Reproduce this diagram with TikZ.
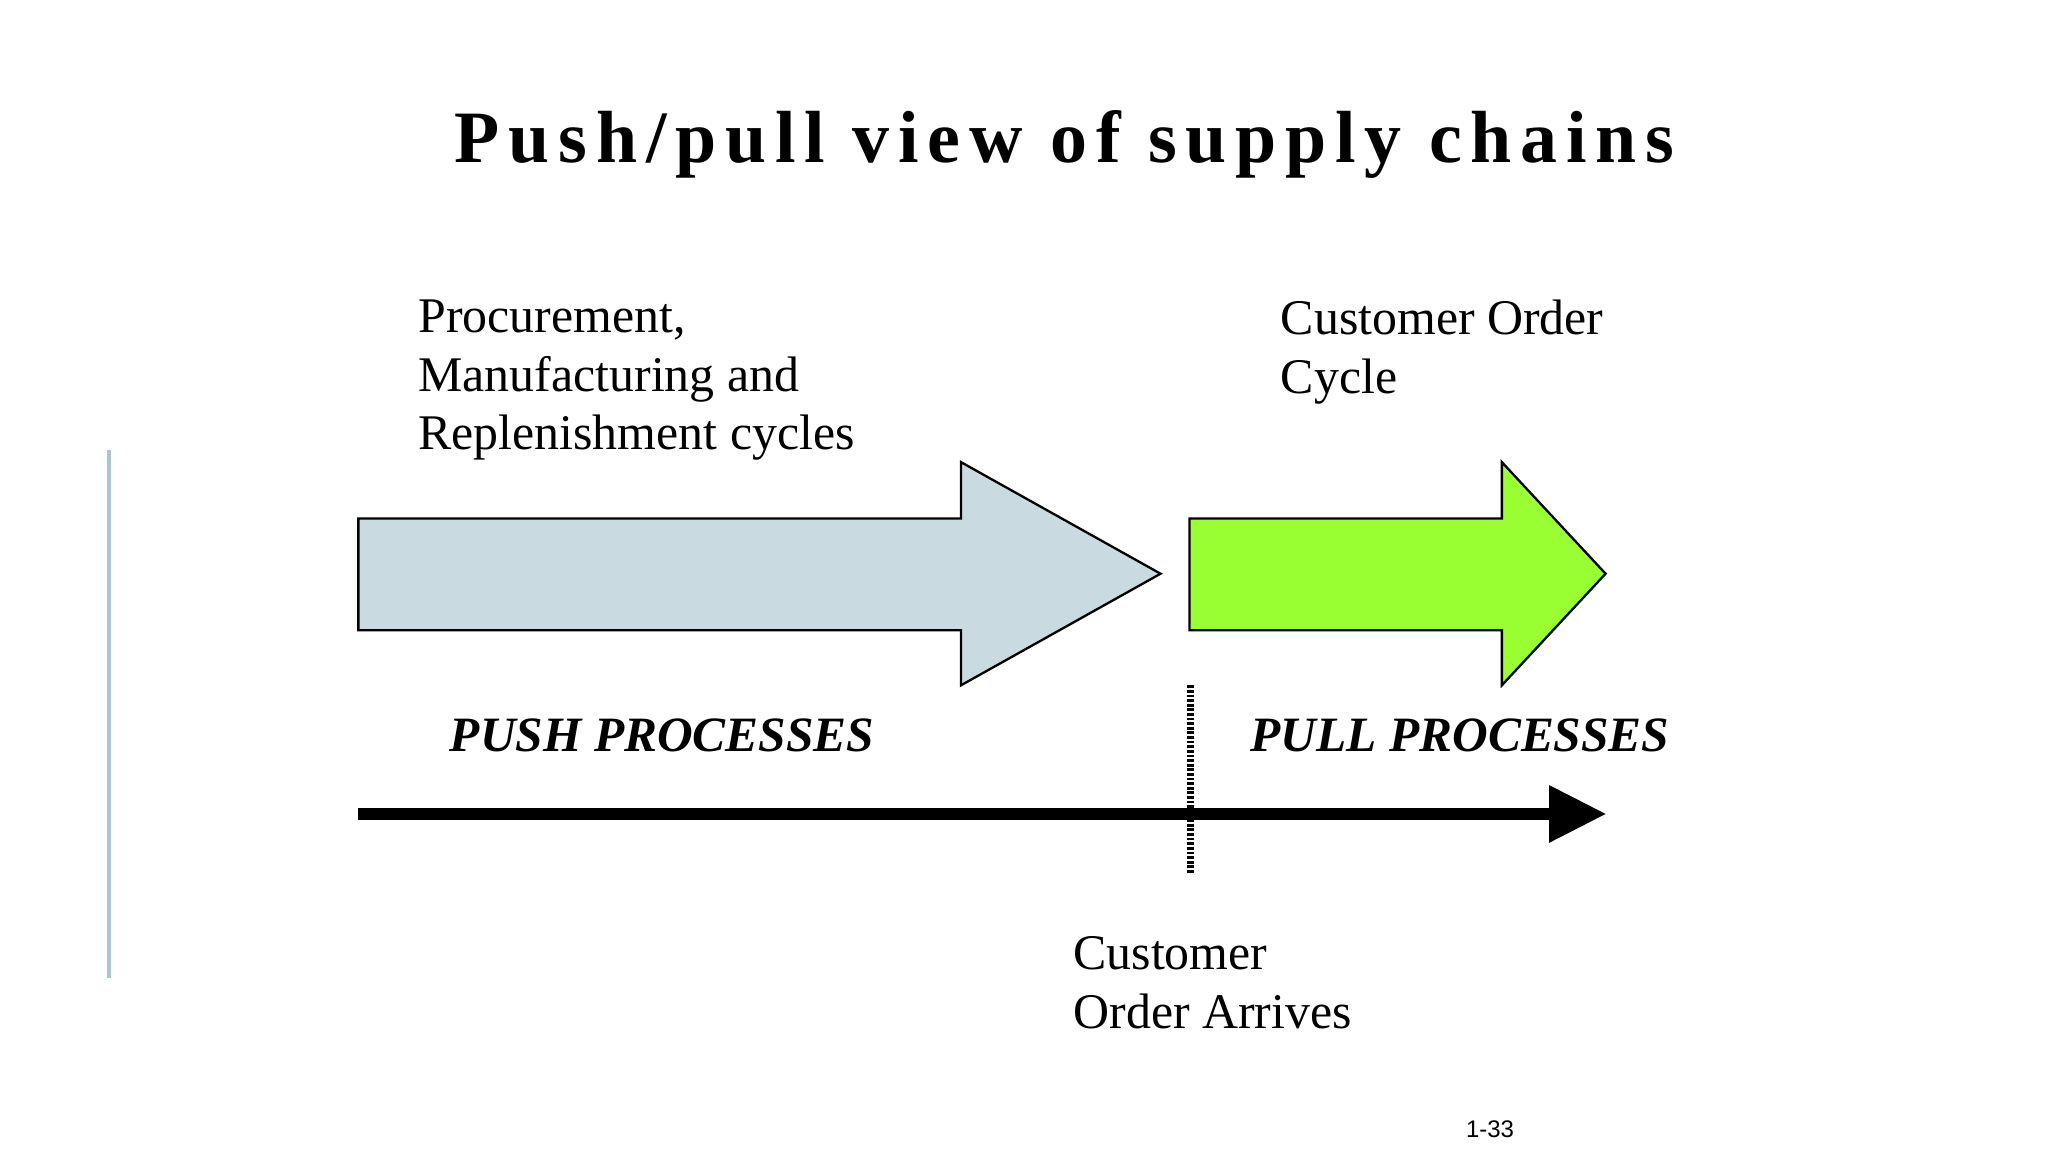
\documentclass[tikz,border=0pt]{standalone}
\usepackage{fontspec}
\setmainfont{Liberation Serif}
\newfontfamily\sansf{Liberation Sans}
\begin{document}
\begin{tikzpicture}[x=0.01cm,y=-0.01cm,
  lbl/.style={anchor=north west,align=left,inner sep=0pt,font=\fontsize{10.8}{12.6}\selectfont},
  proc/.style={anchor=west,inner sep=0pt,font=\fontsize{10.7}{12.6}\selectfont\bfseries\itshape},
  bigarrow/.style={draw=black,line width=0.5pt,line join=miter}]
\useasboundingbox (0,0) rectangle (1560,878);
\node[inner sep=0pt,font=\fontsize{16}{16}\selectfont\bfseries\addfontfeature{LetterSpace=12}] (title) at (811,110) {Push/pull view of supply chains};
\draw[color=cyan!30!gray!60,line width=1pt] (83,343) -- (83,745);
\draw[bigarrow,fill={rgb,255:red,201;green,218;blue,224}] (273,395) -- (732,395) -- (732,352) -- (884,437) -- (732,522) -- (732,480) -- (273,480) -- cycle;
\draw[bigarrow,fill={rgb,255:red,153;green,255;blue,51}] (906,395) -- (1144,395) -- (1144,352) -- (1223,437) -- (1144,522) -- (1144,480) -- (906,480) -- cycle;
\node[lbl] (proc) at (318,228) {Procurement,\\Manufacturing and\\Replenishment cycles};
\node[lbl] (coc) at (975,228) {Customer Order\\Cycle};
\node[proc] (push) at (342,560) {PUSH PROCESSES};
\node[proc] (pull) at (952,560) {PULL PROCESSES};
\coordinate (a0) at (273,620);
\coordinate (a1) at (1182,620);
\draw[line width=9pt/3.5] (a0) -- (a1);
\fill (1180,598) -- (1223,620) -- (1180,642) -- cycle;
\coordinate (d0) at (907,522);
\coordinate (d1) at (907,665);
\draw[line width=1.6pt,dash pattern=on 0.6pt off 0.4pt] (d0) -- (d1);
\node[lbl] (arr) at (817,713) {Customer\\Order Arrives};
\node[inner sep=0pt,font=\sansf\fontsize{5.2}{5.2}\selectfont] (pg) at (1135,860) {1-33};
\end{tikzpicture}
\end{document}
